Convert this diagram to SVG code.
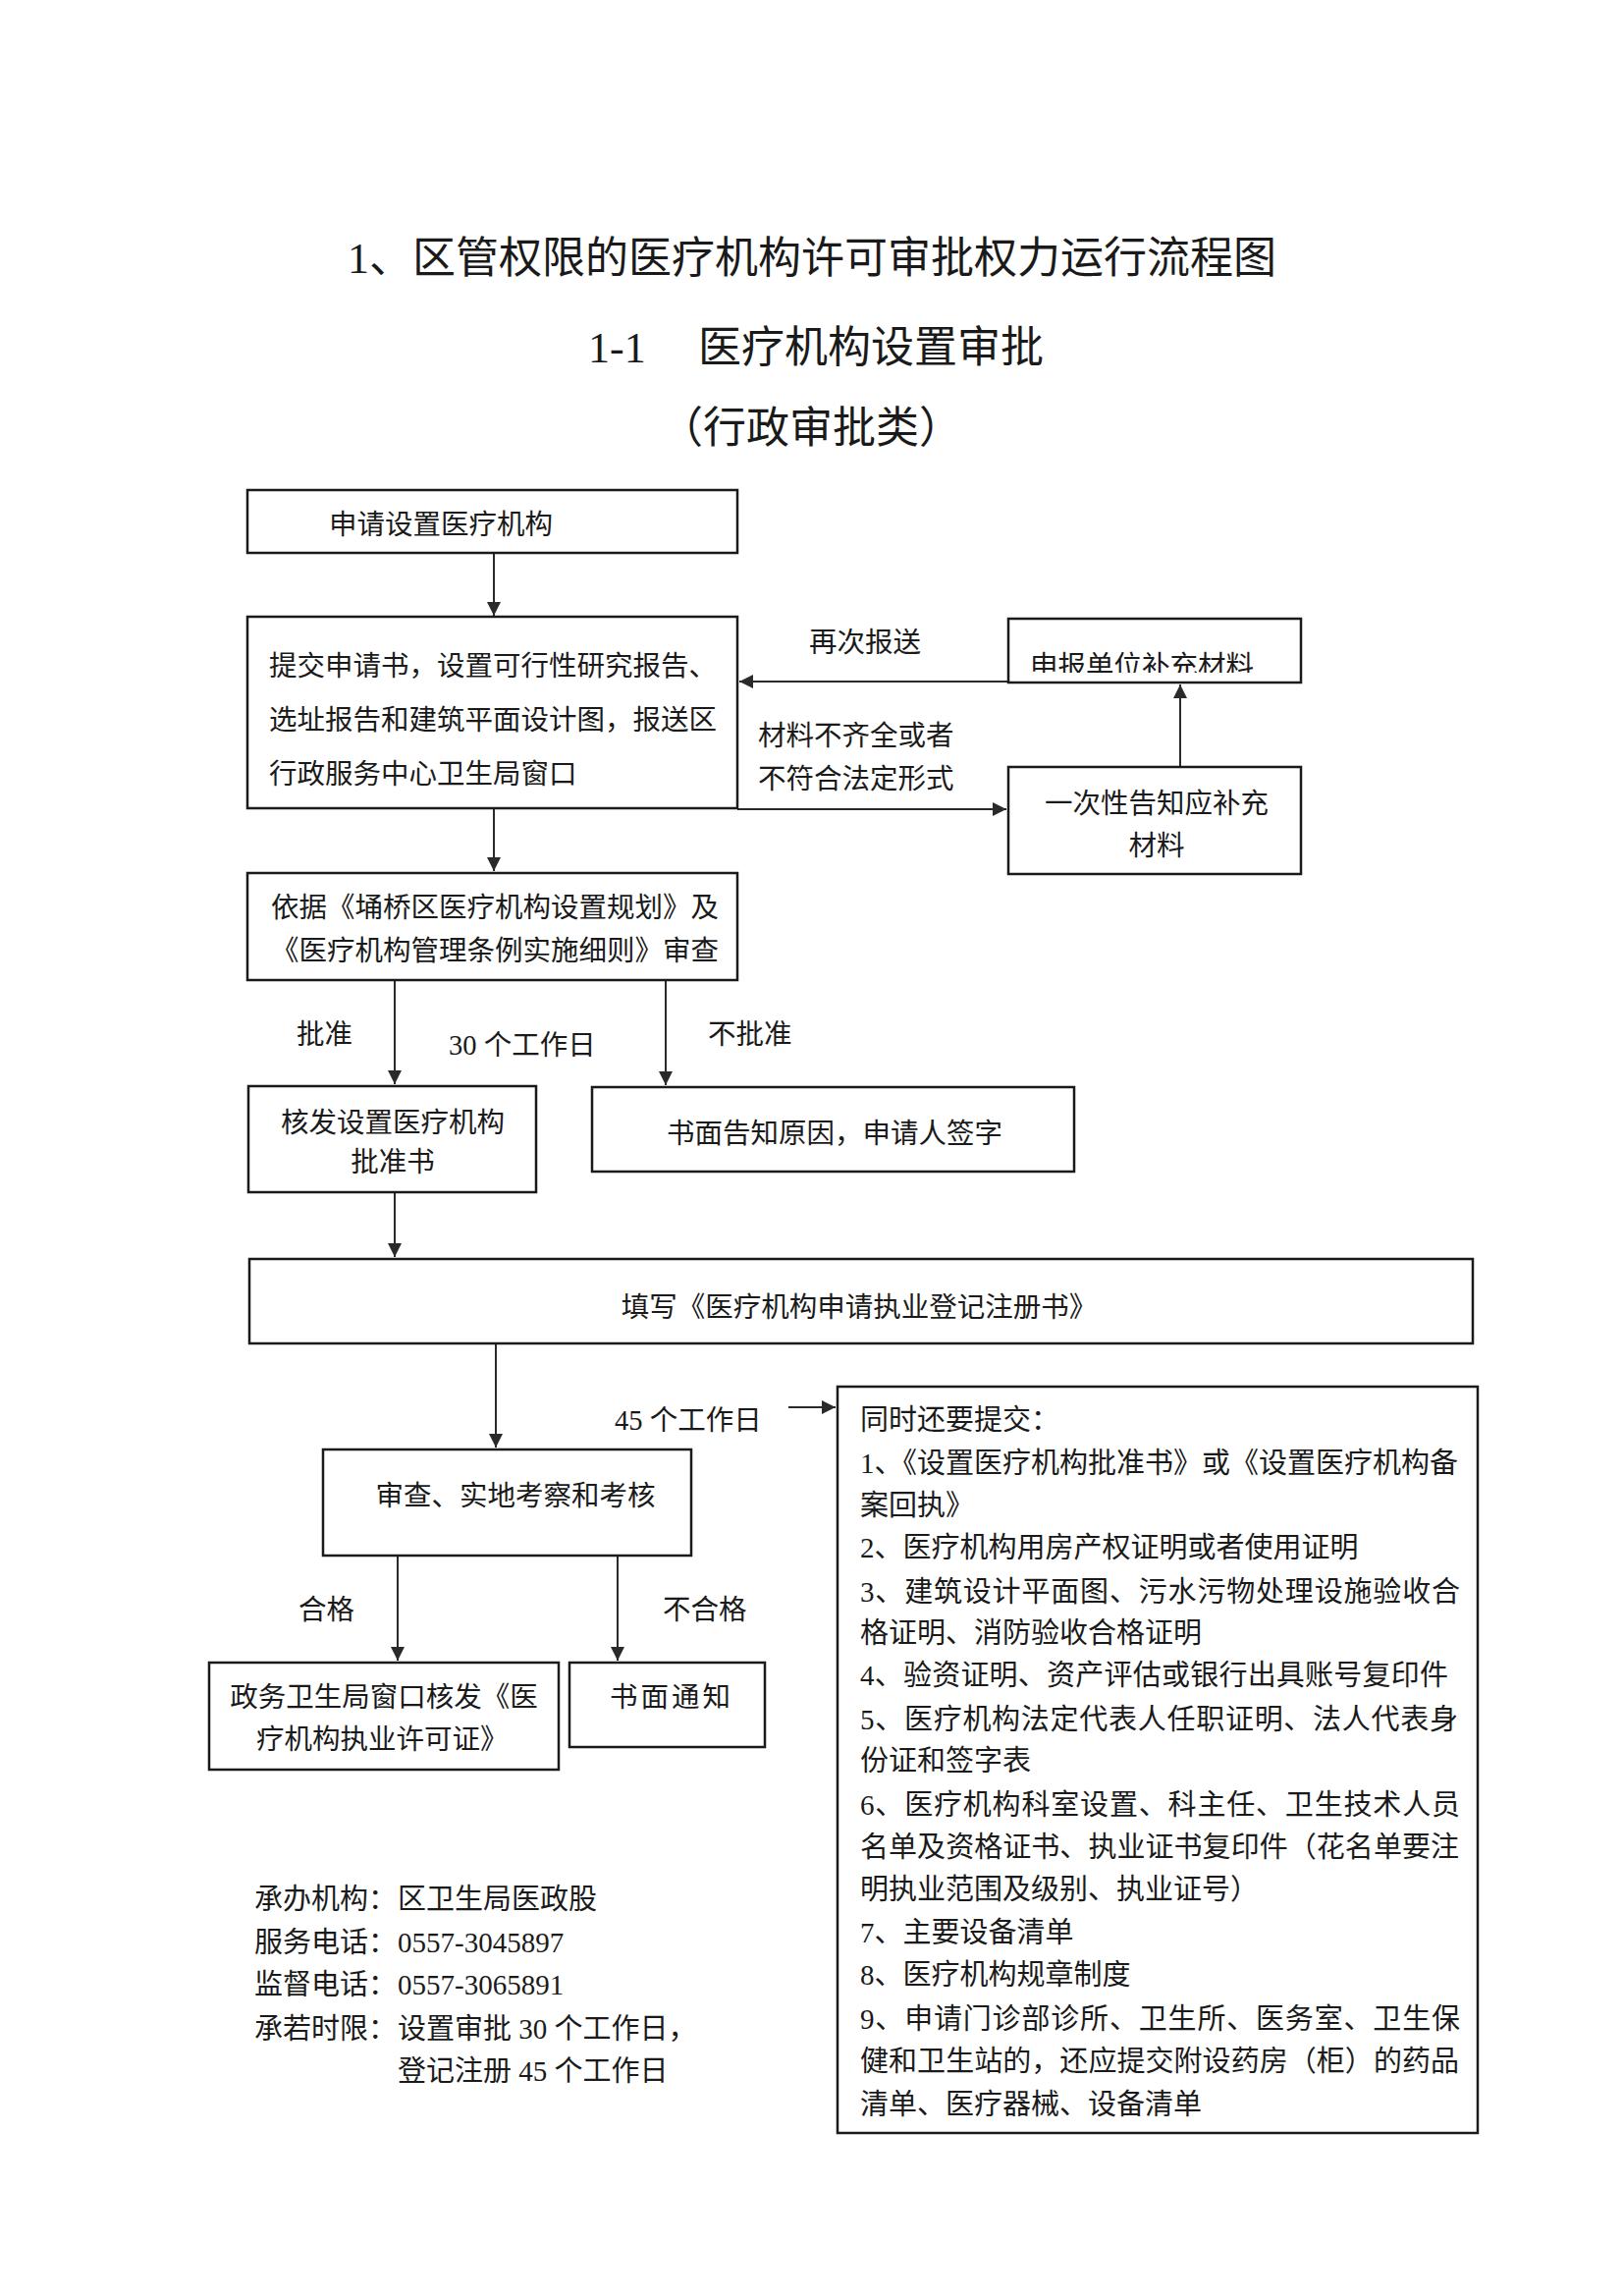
<svg xmlns="http://www.w3.org/2000/svg" width="1653" height="2338" viewBox="0 0 1653 2338">
<style>
text{font-family:"Liberation Serif","Noto Sans CJK SC",serif;fill:#1a1a1a}
.t{font-size:44px}
.n{font-size:28.5px}
.l{font-size:29px}
.f{font-size:29px}
.box{fill:#fff;stroke:#1a1a1a;stroke-width:2.5}
.c{stroke:#2a2a2a;stroke-width:2;fill:none;marker-end:url(#ah)}
.m{text-anchor:middle}
</style>
<defs>
<marker id="ah" markerUnits="userSpaceOnUse" markerWidth="14" markerHeight="14" refX="14" refY="7" orient="auto">
<path d="M0,0 L14,7 L0,14 z" fill="#2a2a2a"/>
</marker>
<clipPath id="clipB3"><rect x="1027" y="630" width="298" height="55"/></clipPath>
</defs>
<rect width="1653" height="2338" fill="#fff"/>

<g id="title">
<text class="t m" x="827" y="278">1、区管权限的医疗机构许可审批权力运行流程图</text>
<text class="t" x="599" y="369">1-1</text>
<text class="t" x="711" y="369">医疗机构设置审批</text>
<text class="t m" x="826" y="451">（行政审批类）</text>
</g>

<g id="connectors">
<line class="c" x1="503" y1="564" x2="503" y2="627"/>
<line class="c" x1="1027" y1="694" x2="753" y2="694"/>
<line class="c" x1="751" y1="824" x2="1025" y2="824"/>
<line class="c" x1="1202" y1="781" x2="1202" y2="697"/>
<line class="c" x1="503" y1="824" x2="503" y2="887"/>
<line class="c" x1="402" y1="999" x2="402" y2="1104"/>
<line class="c" x1="678" y1="999" x2="678" y2="1105"/>
<line class="c" x1="402" y1="1215" x2="402" y2="1280"/>
<line class="c" x1="505" y1="1369" x2="505" y2="1474"/>
<line class="c" x1="803" y1="1433" x2="851" y2="1433"/>
<line class="c" x1="405" y1="1585" x2="405" y2="1691"/>
<line class="c" x1="629" y1="1585" x2="629" y2="1691"/>
<text class="n" x="824" y="664">再次报送</text>
<text class="n" x="772" y="759">材料不齐全或者</text>
<text class="n" x="772" y="803">不符合法定形式</text>
<text class="n" x="302" y="1063">批准</text>
<text class="n" x="457" y="1074">30 个工作日</text>
<text class="n" x="721" y="1063">不批准</text>
<text class="n" x="626" y="1456">45 个工作日</text>
<text class="n" x="304" y="1649">合格</text>
<text class="n" x="675" y="1649">不合格</text>
</g>

<g id="b1">
<rect class="box" x="252" y="499" width="499" height="64"/>
<text class="n" x="335" y="544">申请设置医疗机构</text>
</g>

<g id="b2">
<rect class="box" x="252" y="628" width="499" height="195"/>
<text class="n" x="274" y="688">提交申请书，设置可行性研究报告、</text>
<text class="n" x="274" y="743">选址报告和建筑平面设计图，报送区</text>
<text class="n" x="274" y="798">行政服务中心卫生局窗口</text>
</g>

<g id="b3">
<rect class="box" x="1027" y="630" width="298" height="65"/>
<text class="n" x="1049" y="688" clip-path="url(#clipB3)">申报单位补充材料</text>
</g>

<g id="b4">
<rect class="box" x="1027" y="781" width="298" height="109"/>
<text class="n m" x="1178" y="828">一次性告知应补充</text>
<text class="n m" x="1178" y="871">材料</text>
</g>

<g id="b5">
<rect class="box" x="252" y="889" width="499" height="109"/>
<text class="n" x="276" y="934">依据《埇桥区医疗机构设置规划》及</text>
<text class="n" x="276" y="978">《医疗机构管理条例实施细则》审查</text>
</g>

<g id="b6">
<rect class="box" x="253" y="1106" width="293" height="108"/>
<text class="n m" x="400" y="1153">核发设置医疗机构</text>
<text class="n m" x="400" y="1193">批准书</text>
</g>

<g id="b7">
<rect class="box" x="603" y="1107" width="491" height="86"/>
<text class="n m" x="850" y="1164">书面告知原因，申请人签字</text>
</g>

<g id="b8">
<rect class="box" x="254" y="1282" width="1246" height="86"/>
<text class="n m" x="875" y="1341">填写《医疗机构申请执业登记注册书》</text>
</g>

<g id="b9">
<rect class="box" x="329" y="1476" width="375" height="108"/>
<text class="n m" x="525" y="1533">审查、实地考察和考核</text>
</g>

<g id="b10">
<rect class="box" x="853" y="1412" width="652" height="760"/>
<text class="l" x="876" y="1456">同时还要提交：</text>
<text class="l" x="876" y="1500" textLength="609">1、《设置医疗机构批准书》或《设置医疗机构备</text>
<text class="l" x="876" y="1543">案回执》</text>
<text class="l" x="876" y="1586">2、医疗机构用房产权证明或者使用证明</text>
<text class="l" x="876" y="1631" textLength="611">3、建筑设计平面图、污水污物处理设施验收合</text>
<text class="l" x="876" y="1673">格证明、消防验收合格证明</text>
<text class="l" x="876" y="1716" textLength="599">4、验资证明、资产评估或银行出具账号复印件</text>
<text class="l" x="876" y="1761" textLength="609">5、医疗机构法定代表人任职证明、法人代表身</text>
<text class="l" x="876" y="1803">份证和签字表</text>
<text class="l" x="876" y="1848" textLength="611">6、医疗机构科室设置、科主任、卫生技术人员</text>
<text class="l" x="876" y="1891" textLength="610">名单及资格证书、执业证书复印件（花名单要注</text>
<text class="l" x="876" y="1934">明执业范围及级别、执业证号）</text>
<text class="l" x="876" y="1978">7、主要设备清单</text>
<text class="l" x="876" y="2021">8、医疗机构规章制度</text>
<text class="l" x="876" y="2066" textLength="611">9、申请门诊部诊所、卫生所、医务室、卫生保</text>
<text class="l" x="876" y="2109" textLength="610">健和卫生站的，还应提交附设药房（柜）的药品</text>
<text class="l" x="876" y="2153">清单、医疗器械、设备清单</text>
</g>

<g id="b11">
<rect class="box" x="213" y="1693" width="356" height="109"/>
<text class="n m" x="391" y="1738">政务卫生局窗口核发《医</text>
<text class="n" x="261" y="1781">疗机构执业许可证》</text>
</g>

<g id="b12">
<rect class="box" x="580" y="1693" width="199" height="86"/>
<text class="n" x="621" y="1738" letter-spacing="3">书面通知</text>
</g>

<g id="footer">
<text class="f" x="259" y="1944">承办机构：</text><text class="f" x="405" y="1944">区卫生局医政股</text>
<text class="f" x="259" y="1988">服务电话：</text><text class="f" x="405" y="1988">0557-3045897</text>
<text class="f" x="259" y="2031">监督电话：</text><text class="f" x="405" y="2031">0557-3065891</text>
<text class="f" x="259" y="2076">承若时限：</text><text class="f" x="405" y="2076">设置审批 30 个工作日，</text>
<text class="f" x="405" y="2119">登记注册 45 个工作日</text>
</g>
</svg>
